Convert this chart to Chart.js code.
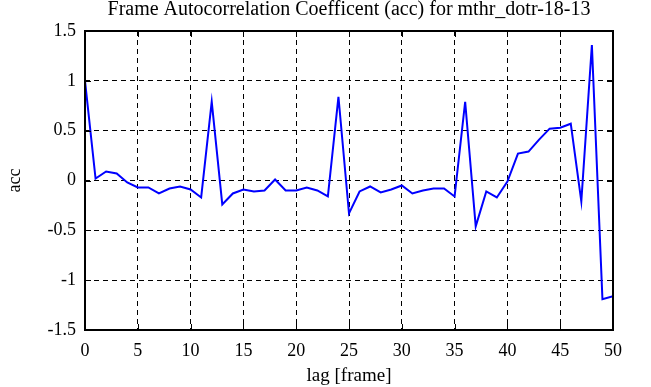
<!DOCTYPE html>
<html>
<head>
<meta charset="utf-8">
<script src="https://cdn.jsdelivr.net/npm/chart.js@4"></script>
<style>
  body { margin: 0; background: #fff; }
  #wrap { width: 651px; height: 387px; }
</style>
</head>
<body>
<div id="wrap"><canvas id="accChart" width="651" height="387"></canvas></div>
<script>
const LAGS = [];
for (let i = 0; i <= 50; i++) LAGS.push(i);

const ACC = [
  1.0, 0.02, 0.09, 0.07, -0.02, -0.07, -0.07, -0.13, -0.08, -0.06,
  -0.09, -0.17, 0.79, -0.24, -0.13, -0.09, -0.11, -0.10, 0.01, -0.10,
  -0.10, -0.07, -0.10, -0.16, 0.84, -0.33, -0.11, -0.06, -0.12, -0.09,
  -0.05, -0.13, -0.10, -0.08, -0.08, -0.16, 0.79, -0.46, -0.11, -0.17,
  -0.01, 0.27, 0.29, 0.41, 0.52, 0.53, 0.57, -0.21, 1.36, -1.19,
  -1.16
];

const X_MIN = 0, X_MAX = 50, X_STEP = 5;
const Y_MIN = -1.5, Y_MAX = 1.5, Y_STEP = 0.5;

const FONT = "'Liberation Serif', 'DejaVu Serif', serif";

// frame round the plot plus small inward tick marks on all four sides
const framePlugin = {
  id: "frame",
  afterDatasetsDraw(chart) {
    const { ctx, chartArea: a, scales } = chart;
    const len = 6;
    ctx.save();
    ctx.strokeStyle = "#000";
    ctx.lineWidth = 1;
    ctx.beginPath();
    scales.x.ticks.forEach((t) => {
      const px = Math.round(scales.x.getPixelForValue(t.value)) + 0.5;
      ctx.moveTo(px, a.bottom);
      ctx.lineTo(px, a.bottom - len);
      ctx.moveTo(px, a.top);
      ctx.lineTo(px, a.top + len);
    });
    scales.y.ticks.forEach((t) => {
      const py = Math.round(scales.y.getPixelForValue(t.value)) + 0.5;
      ctx.moveTo(a.left, py);
      ctx.lineTo(a.left + len, py);
      ctx.moveTo(a.right, py);
      ctx.lineTo(a.right - len, py);
    });
    ctx.stroke();
    ctx.lineWidth = 2;
    ctx.strokeRect(a.left, a.top, a.right - a.left, a.bottom - a.top);
    ctx.restore();
  },
};

new Chart(document.getElementById("accChart"), {
  type: "line",
  data: {
    labels: LAGS,
    datasets: [
      {
        data: LAGS.map((x, i) => ({ x: x, y: ACC[i] })),
        borderColor: "#0000ff",
        borderWidth: 2,
        pointRadius: 0,
        tension: 0,
        fill: false,
      },
    ],
  },
  options: {
    responsive: false,
    animation: false,
    devicePixelRatio: 1,
    layout: { padding: { left: 0, right: 38, top: 0, bottom: 0 } },
    plugins: {
      legend: { display: false },
      tooltip: { enabled: false },
      title: {
        display: true,
        fullSize: false,
        text: "Frame Autocorrelation Coefficent (acc) for mthr_dotr-18-13",
        color: "#000",
        font: { family: FONT, size: 20, weight: "normal", lineHeight: 1 },
        padding: { top: 0, bottom: 11 },
      },
    },
    scales: {
      x: {
        type: "linear",
        min: X_MIN,
        max: X_MAX,
        ticks: {
          stepSize: X_STEP,
          color: "#000",
          padding: 10,
          maxRotation: 0,
          font: { family: FONT, size: 18 },
        },
        grid: { color: "#000", lineWidth: 1, drawTicks: false },
        border: { display: false, dash: [5, 4] },
        title: {
          display: true,
          text: "lag [frame]",
          color: "#000",
          font: { family: FONT, size: 19 },
          padding: { top: 0, bottom: 0 },
        },
        afterFit(scale) {
          scale.height = 57;
        },
      },
      y: {
        min: Y_MIN,
        max: Y_MAX,
        ticks: {
          stepSize: Y_STEP,
          color: "#000",
          padding: 9,
          font: { family: FONT, size: 18 },
          callback: (v) => String(v),
        },
        grid: { color: "#000", lineWidth: 1, drawTicks: false },
        border: { display: false, dash: [5, 4] },
        title: {
          display: true,
          text: "acc",
          color: "#000",
          font: { family: FONT, size: 18 },
          padding: { top: 4, bottom: 0 },
        },
        afterFit(scale) {
          scale.width = 85;
        },
      },
    },
  },
  plugins: [framePlugin],
});
</script>
</body>
</html>
